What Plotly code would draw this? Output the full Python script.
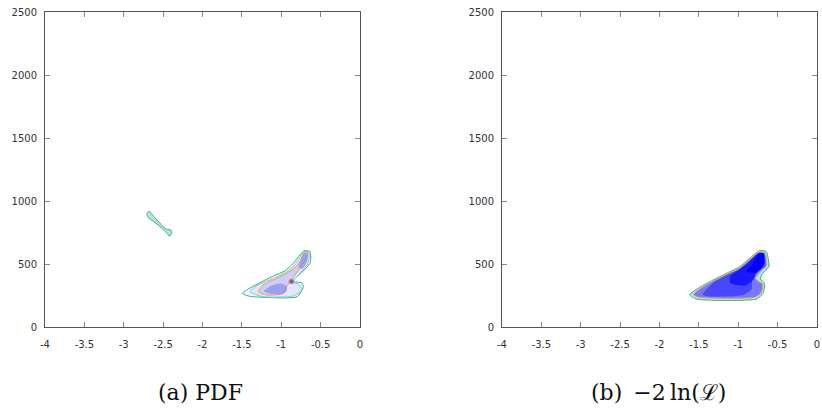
import plotly.graph_objects as go

# ---- axis ticks ----
X_TICKS = [-4, -3.5, -3, -2.5, -2, -1.5, -1, -0.5, 0]
X_TICK_TEXT = ["-4", "-3.5", "-3", "-2.5", "-2", "-1.5", "-1", "-0.5", "0"]
Y_TICKS = [0, 500, 1000, 1500, 2000, 2500]
Y_TICK_TEXT = ["0", "500", "1000", "1500", "2000", "2500"]

# ---- panel (a) PDF: contour outlines ----
PDF_OUTER_X = [-1.494, -1.42, -1.35, -0.80, -0.72, -0.74, -0.85, -0.635, -0.635, -0.71, -0.85, -0.95, -1.10, -1.27, -1.44]
PDF_OUTER_Y = [267, 246, 240, 240, 315, 352, 362, 505, 598, 606, 505, 447, 405, 352, 294]
PDF_MID_X = [-1.40, -1.23, -0.85, -0.74, -0.78, -0.85, -0.66, -0.65, -0.71, -0.83, -0.93, -1.10, -1.31]
PDF_MID_Y = [280, 241, 246, 294, 341, 355, 505, 598, 598, 492, 439, 386, 328]
PDF_INNER_X = [-1.29, -1.185, -0.97, -0.93, -0.87, -0.78, -0.68, -0.66, -0.71, -0.76, -0.85, -1.06, -1.23]
PDF_INNER_Y = [280, 254, 267, 325, 373, 452, 545, 598, 593, 519, 458, 386, 333]
PDF_PEAK1_X = [-1.22, -1.15, -1.0, -0.93, -0.93, -1.0, -1.12]
PDF_PEAK1_Y = [285, 265, 262, 285, 320, 345, 330]
PDF_PEAK2_X = [-0.78, -0.73, -0.67, -0.67, -0.71, -0.76]
PDF_PEAK2_Y = [470, 462, 520, 588, 585, 520]
PDF_DOT_X = [-0.87]
PDF_DOT_Y = [362]
PDF_ISLAND_X = [-2.705, -2.69, -2.60, -2.50, -2.45, -2.42, -2.39, -2.40, -2.455, -2.54, -2.62, -2.675]
PDF_ISLAND_Y = [902, 870, 828, 775, 743, 722, 743, 770, 775, 823, 876, 918]

# ---- panel (b) -2 ln(L) ----
LIK_OUTER_X = [-1.617, -1.53, -0.77, -0.686, -0.665, -0.72, -0.69, -0.61, -0.62, -0.643, -0.728, -0.855, -0.98, -1.15, -1.32, -1.49]
LIK_OUTER_Y = [257, 222, 222, 267, 347, 380, 426, 479, 545, 598, 606, 545, 479, 426, 373, 315]
LIK_INNER_X = [-1.57, -1.50, -0.79, -0.71, -0.69, -0.75, -0.78, -0.72, -0.64, -0.645, -0.665, -0.735, -0.86, -0.985, -1.155, -1.325, -1.48]
LIK_INNER_Y = [257, 236, 236, 272, 340, 365, 385, 440, 485, 545, 590, 592, 532, 466, 414, 362, 306]
LIK_MID_X = [-1.45, -1.40, -0.95, -0.83, -0.82, -0.75, -0.66, -0.67, -0.74, -0.86, -1.00, -1.17, -1.32]
LIK_MID_Y = [258, 245, 252, 300, 380, 440, 485, 585, 588, 520, 456, 405, 352]
LIK_CORE_X = [-1.10, -0.90, -0.80, -0.78, -0.70, -0.67, -0.68, -0.74, -0.86, -0.98, -1.10]
LIK_CORE_Y = [350, 330, 380, 420, 470, 500, 585, 588, 520, 456, 405]
LIK_DARK_X = [-0.90, -0.78, -0.70, -0.67, -0.68, -0.73, -0.82]
LIK_DARK_Y = [440, 430, 470, 500, 580, 585, 500]

CAPTIONS = ["(a) PDF", "(b)\u2002\u22122\u2009ln(\u2112)"]

GREEN = "rgb(70,170,120)"
CYAN = "rgb(110,215,200)"
ORANGE = "rgb(235,160,70)"


def poly(x, y, fill, line_color=None, width=0, xa="x", ya="y"):
    return go.Scatter(
        x=x + x[:1], y=y + y[:1], mode="lines", fill="toself",
        fillcolor=fill,
        line=dict(color=line_color or "rgba(0,0,0,0)", width=width, shape="spline", smoothing=0.6),
        hoverinfo="skip", showlegend=False, xaxis=xa, yaxis=ya,
    )


fig = go.Figure()
# panel (a)
fig.add_trace(poly(PDF_OUTER_X, PDF_OUTER_Y, "rgba(244,244,255,1)", GREEN, 1))
fig.add_trace(poly(PDF_MID_X, PDF_MID_Y, "rgba(228,228,253,1)", CYAN, 1))
fig.add_trace(poly(PDF_INNER_X, PDF_INNER_Y, "rgba(205,205,250,1)", ORANGE, 1))
fig.add_trace(poly(PDF_PEAK1_X, PDF_PEAK1_Y, "rgba(125,125,240,0.6)"))
fig.add_trace(poly(PDF_PEAK2_X, PDF_PEAK2_Y, "rgba(125,125,240,0.6)"))
fig.add_trace(go.Scatter(x=PDF_DOT_X, y=PDF_DOT_Y, mode="markers",
                         marker=dict(size=5, color="rgb(110,90,220)", line=dict(color=ORANGE, width=1)),
                         hoverinfo="skip", showlegend=False))
fig.add_trace(poly(PDF_ISLAND_X, PDF_ISLAND_Y, "rgba(175,232,222,1)", GREEN, 1))

# panel (b)
fig.add_trace(poly(LIK_OUTER_X, LIK_OUTER_Y, "rgba(170,235,225,1)", GREEN, 1, "x2", "y2"))
fig.add_trace(poly(LIK_INNER_X, LIK_INNER_Y, "rgb(120,120,255)", ORANGE, 1, "x2", "y2"))
fig.add_trace(poly(LIK_MID_X, LIK_MID_Y, "rgba(50,50,255,0.7)", None, 0, "x2", "y2"))
fig.add_trace(poly(LIK_CORE_X, LIK_CORE_Y, "rgba(10,10,255,0.75)", None, 0, "x2", "y2"))
fig.add_trace(poly(LIK_DARK_X, LIK_DARK_Y, "rgba(0,0,250,0.9)", None, 0, "x2", "y2"))

axis_common = dict(
    showline=True, linecolor="#555", linewidth=1, mirror="ticks",
    ticks="inside", ticklen=5, tickcolor="#888", tickwidth=1,
    showgrid=False, zeroline=False, automargin=False,
    tickfont=dict(family="DejaVu Sans", size=10, color="#333"),
    ticklabelstandoff=5,
)
xcfg = dict(axis_common, range=[-4, 0], tickvals=X_TICKS, ticktext=X_TICK_TEXT, ticklabelstandoff=8)
ycfg = dict(axis_common, range=[0, 2500], tickvals=Y_TICKS, ticktext=Y_TICK_TEXT)

cap_font = dict(family="DejaVu Serif", size=22, color="#111")
fig.update_layout(
    template="none",
    width=822, height=414,
    margin=dict(l=0, r=0, t=0, b=0, autoexpand=False),
    paper_bgcolor="white", plot_bgcolor="white",
    xaxis=dict(xcfg, domain=[45 / 822, 360 / 822], anchor="y"),
    yaxis=dict(ycfg, domain=[87 / 414, 402 / 414], anchor="x"),
    xaxis2=dict(xcfg, domain=[502 / 822, 817 / 822], anchor="y2"),
    yaxis2=dict(ycfg, domain=[87 / 414, 402 / 414], anchor="x2"),
    annotations=[
        dict(text=CAPTIONS[0], x=200 / 822, y=1 - 392 / 414, xref="paper", yref="paper",
             xanchor="center", yanchor="middle", showarrow=False, font=cap_font),
        dict(text=CAPTIONS[1], x=658 / 822, y=1 - 392 / 414, xref="paper", yref="paper",
             xanchor="center", yanchor="middle", showarrow=False, font=cap_font),
    ],
)

fig.write_html("out.html", config={"displayModeBar": False},
               post_script="document.body.style.margin='0';document.body.style.overflow='hidden';")
